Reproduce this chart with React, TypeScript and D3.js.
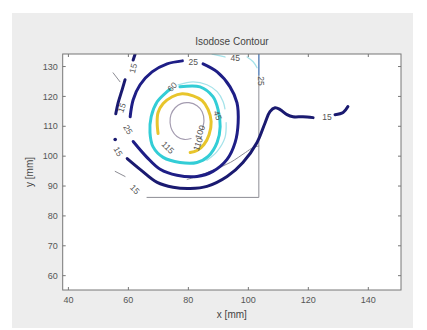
import { useEffect, useRef } from 'react';
import * as d3 from 'd3';

// axis ticks
const xTicks = [40, 60, 80, 100, 120, 140];
const yTicks = [60, 70, 80, 90, 100, 110, 120, 130];

// contour segments in mm (gaps are where labels sit)
const level15Segments = [
  [[62.2, 134.0], [61.6, 132.2]],
  [[58.9, 125.6], [57.9, 122.2], [56.6, 117.9], [55.8, 114.2]],
  [[59.6, 99.2], [63.9, 95.6], [69.6, 91.2], [74.9, 89.6], [80.6, 89.2], [86.2, 89.9],
    [92.9, 93.2], [98.2, 97.9], [102.9, 104.6], [105.6, 111.2], [107.2, 114.9],
    [108.9, 116.2], [110.6, 115.6], [112.9, 113.9], [114.9, 113.2], [118.2, 113.2], [121.6, 112.9]],
  [[128.9, 113.9], [131.6, 114.6], [133.2, 116.6]]
];
const level15Dots = [[55.6, 105.6]];

const level25Segments = [
  [[84.9, 130.9], [89.6, 128.2], [93.9, 123.2], [96.2, 117.9], [96.6, 111.2], [95.6, 104.6],
    [92.9, 98.9], [88.2, 94.9], [82.9, 93.2], [76.2, 93.6], [70.6, 95.6], [66.2, 99.6], [61.6, 104.9]],
  [[60.6, 113.2], [61.6, 118.9], [63.9, 123.9], [67.9, 128.2], [72.9, 130.9], [78.0, 131.9]]
];

const level45Segments = [
  [[87.9, 134.2], [92.2, 133.2]],
  [[99.6, 133.2], [101.6, 131.6], [102.9, 129.6]],
  [[76.6, 123.9], [81.6, 124.9], [86.2, 123.9], [89.6, 121.6], [91.6, 118.2], [92.2, 115.8]],
  [[92.6, 111.2], [92.2, 106.2], [89.6, 101.6], [86.2, 98.6]]
];

const level60Segments = [
  [[77.2, 123.2], [83.9, 123.2], [88.2, 119.9], [89.9, 115.6], [90.6, 109.9], [89.6, 104.6],
    [86.6, 99.9], [82.9, 97.9], [77.2, 97.9], [71.6, 99.6], [68.2, 103.2], [67.2, 107.9],
    [67.6, 113.2], [69.6, 118.2], [72.9, 121.6], [73.9, 122.4]]
];

const level85Segments = [
  [[69.9, 107.6], [69.6, 111.2], [69.9, 114.6], [71.6, 117.6], [74.6, 119.9], [77.9, 120.9],
    [81.6, 120.2], [84.6, 118.6], [86.6, 115.6], [87.6, 111.6], [86.9, 107.2], [85.2, 103.9],
    [82.9, 101.9], [80.6, 101.2]]
];

const level100Segments = [
  [[84.6, 108.9], [85.2, 111.9], [84.6, 114.9], [82.9, 116.9], [80.2, 117.9], [77.6, 117.6],
    [75.6, 116.2], [74.2, 113.9], [73.9, 111.2], [74.6, 108.6], [76.2, 106.6], [78.6, 105.6], [80.9, 105.9]]
];

// thin grey edge lines of the dose grid
const edgeSegments = [
  [[54.9, 127.9], [57.2, 124.9]],
  [[55.6, 94.9], [58.9, 93.2]],
  [[66.2, 86.2], [103.5, 86.2], [103.5, 127.0]]
];
const innerEdgeSegments = [
  [[79.6, 92.2], [83.9, 93.6], [88.9, 95.6], [94.0, 97.9], [99.0, 101.2], [101.6, 102.9], [103.5, 103.4]]
];
const blueEdgeSegments = [[[103.5, 134.2], [103.5, 127.2]]];

const labelText = ['15', '15', '15', '15', '15', '25', '25', '25', '45', '45', '60', '100', '110', '115'];
const labelX = [61.6, 57.8, 56.6, 62.2, 126.2, 81.6, 59.9, 104.2, 95.6, 89.8, 74.6, 83.9, 83.2, 73.2];
const labelY = [129.4, 116.2, 101.6, 88.9, 113.2, 131.4, 108.9, 125.2, 132.9, 113.6, 123.2, 108.0, 104.0, 102.9];
const labelAngle = [-75, -70, 60, 45, 0, 0, 60, 90, 0, 70, -45, -70, -70, 45];

export default function App() {
  const svgRef = useRef<SVGSVGElement>(null);

  useEffect(() => {
    const svg = d3.select(svgRef.current);
    svg.selectAll('*').remove();

    const width = 427;
    const height = 330;
    const left = 62.7, right = 401, top = 54, bottom = 290;

    const x = d3.scaleLinear().domain([38.1, 150.9]).range([left, right]);
    const y = d3.scaleLinear().domain([55.2, 134.2]).range([bottom, top]);

    svg.attr('width', width).attr('height', height);

    // figure background
    svg.append('rect')
      .attr('x', 12).attr('y', 13)
      .attr('width', 401).attr('height', 315)
      .attr('fill', '#ededed');

    svg.append('rect')
      .attr('x', left).attr('y', top)
      .attr('width', right - left).attr('height', bottom - top)
      .attr('fill', '#fff');

    const font = 'Liberation Sans, Arial, sans-serif';

    const clipId = 'plot-clip';
    svg.append('clipPath').attr('id', clipId)
      .append('rect')
      .attr('x', left).attr('y', top)
      .attr('width', right - left).attr('height', bottom - top);

    const plot = svg.append('g').attr('clip-path', `url(#${clipId})`);

    const smooth = d3.line<number[]>()
      .x(d => x(d[0]))
      .y(d => y(d[1]))
      .curve(d3.curveCatmullRom.alpha(0.5));
    const straight = d3.line<number[]>()
      .x(d => x(d[0]))
      .y(d => y(d[1]));

    const drawSegments = (segs: number[][][], color: string, w: number, gen = smooth) => {
      plot.append('g')
        .selectAll('path')
        .data(segs)
        .join('path')
        .attr('d', d => gen(d))
        .attr('fill', 'none')
        .attr('stroke', color)
        .attr('stroke-width', w)
        .attr('stroke-linecap', 'round')
        .attr('stroke-linejoin', 'round');
    };

    drawSegments(edgeSegments, '#8c8c94', 1, straight);
    drawSegments(innerEdgeSegments, '#8c8c94', 1);
    drawSegments(blueEdgeSegments, '#6a8fc0', 1.6, straight);
    drawSegments(level45Segments, '#a6e3ea', 1.3);
    drawSegments(level100Segments, '#a49cb0', 1.2);
    drawSegments(level85Segments, '#e8c52c', 3);
    drawSegments(level60Segments, '#33cdd6', 3);
    drawSegments(level25Segments, '#1e1e86', 3);
    drawSegments(level15Segments, '#1a1a70', 3);

    plot.selectAll('circle.dot')
      .data(level15Dots)
      .join('circle')
      .attr('class', 'dot')
      .attr('cx', d => x(d[0]))
      .attr('cy', d => y(d[1]))
      .attr('r', 1.8)
      .attr('fill', '#1a1a70');

    plot.selectAll('text.clabel')
      .data(labelText)
      .join('text')
      .attr('class', 'clabel')
      .attr('transform', (d, i) => `translate(${x(labelX[i])},${y(labelY[i])}) rotate(${labelAngle[i]})`)
      .attr('text-anchor', 'middle')
      .attr('dominant-baseline', 'central')
      .style('font-family', font)
      .style('font-size', '8.5px')
      .attr('fill', '#555')
      .text(d => d);

    // axes box
    svg.append('rect')
      .attr('x', left).attr('y', top)
      .attr('width', right - left).attr('height', bottom - top)
      .attr('fill', 'none')
      .attr('stroke', '#777')
      .attr('stroke-width', 1);

    // inward ticks on all four sides
    const tickLen = 3;
    const ticks = svg.append('g').attr('stroke', '#777').attr('stroke-width', 1);
    xTicks.forEach(t => {
      ticks.append('line').attr('x1', x(t)).attr('x2', x(t)).attr('y1', bottom).attr('y2', bottom - tickLen);
      ticks.append('line').attr('x1', x(t)).attr('x2', x(t)).attr('y1', top).attr('y2', top + tickLen);
    });
    yTicks.forEach(t => {
      ticks.append('line').attr('x1', left).attr('x2', left + tickLen).attr('y1', y(t)).attr('y2', y(t));
      ticks.append('line').attr('x1', right).attr('x2', right - tickLen).attr('y1', y(t)).attr('y2', y(t));
    });

    svg.append('g')
      .selectAll('text')
      .data(xTicks)
      .join('text')
      .attr('x', d => x(d))
      .attr('y', bottom + 13)
      .attr('text-anchor', 'middle')
      .style('font-family', font)
      .style('font-size', '9px')
      .attr('fill', '#555')
      .text(d => d);

    svg.append('g')
      .selectAll('text')
      .data(yTicks)
      .join('text')
      .attr('x', left - 5)
      .attr('y', d => y(d))
      .attr('dy', '0.35em')
      .attr('text-anchor', 'end')
      .style('font-family', font)
      .style('font-size', '9px')
      .attr('fill', '#555')
      .text(d => d);

    svg.append('text')
      .attr('x', (left + right) / 2)
      .attr('y', 45)
      .attr('text-anchor', 'middle')
      .style('font-family', font)
      .style('font-size', '10px')
      .attr('fill', '#444')
      .text('Isodose Contour');

    svg.append('text')
      .attr('x', (left + right) / 2)
      .attr('y', 318)
      .attr('text-anchor', 'middle')
      .style('font-family', font)
      .style('font-size', '10px')
      .attr('fill', '#444')
      .text('x [mm]');

    svg.append('text')
      .attr('transform', `translate(33,${(top + bottom) / 2}) rotate(-90)`)
      .attr('text-anchor', 'middle')
      .style('font-family', font)
      .style('font-size', '10px')
      .attr('fill', '#444')
      .text('y [mm]');
  }, []);

  return (
    <svg ref={svgRef} style={{ position: 'absolute', left: 0, top: 0, display: 'block' }}></svg>
  );
}
